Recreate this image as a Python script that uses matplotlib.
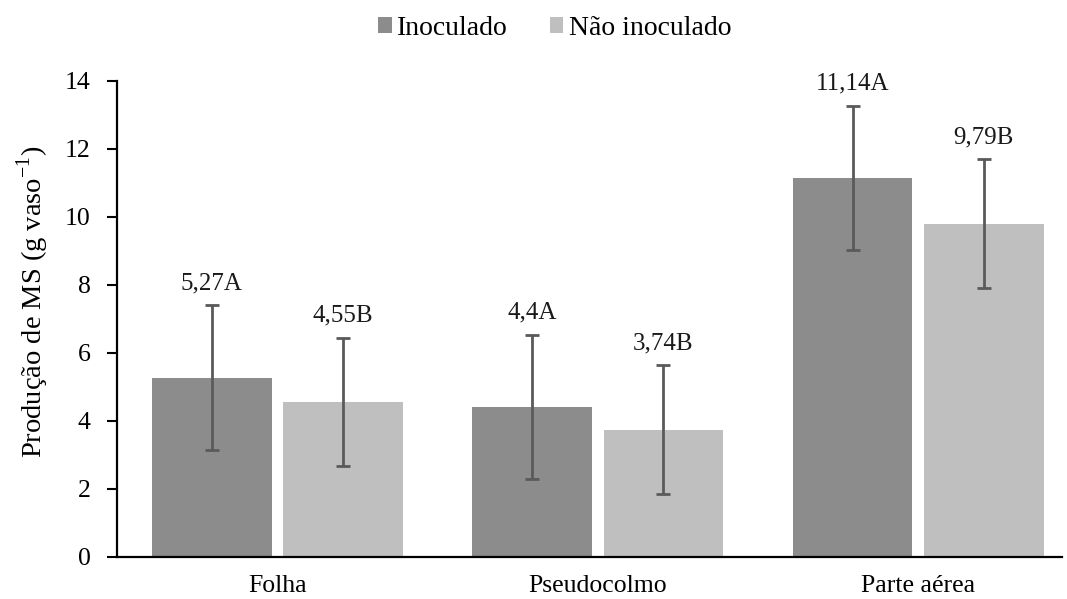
import numpy as np
import matplotlib.pyplot as plt

plt.rcParams['font.family'] = ['Liberation Serif', 'DejaVu Serif']
plt.rcParams['mathtext.fontset'] = 'custom'
plt.rcParams['mathtext.rm'] = 'Liberation Serif'

categories = ["Folha", "Pseudocolmo", "Parte aérea"]
inoculado = [5.27, 4.40, 11.14]
nao_inoculado = [4.55, 3.74, 9.79]
err_inoculado = [2.12, 2.12, 2.12]
err_nao_inoculado = [1.89, 1.89, 1.89]
labels_inoculado = ["5,27A", "4,4A", "11,14A"]
labels_nao_inoculado = ["4,55B", "3,74B", "9,79B"]


def main():
    fig = plt.figure(figsize=(10.67, 5.99), dpi=100)
    ax = fig.add_axes([0.1097, 0.0705, 0.886, 0.795])

    x = np.arange(len(categories))
    width = 0.374
    off = 0.205
    ekw = dict(ecolor="#5a5a5a", elinewidth=2, capsize=5, capthick=2)

    b1 = ax.bar(x - off, inoculado, width, color="#8c8c8c", label="Inoculado",
                yerr=err_inoculado, error_kw=ekw)
    b2 = ax.bar(x + off, nao_inoculado, width, color="#bfbfbf", label="Não inoculado",
                yerr=err_nao_inoculado, error_kw=ekw)

    for xs, vals, errs, labs in [(x - off, inoculado, err_inoculado, labels_inoculado),
                                 (x + off, nao_inoculado, err_nao_inoculado, labels_nao_inoculado)]:
        for xi, v, e, t in zip(xs, vals, errs, labs):
            ax.annotate(t, (xi, v + e), xytext=(0, 8), textcoords="offset points",
                        ha="center", va="bottom", fontsize=18, color="#1a1a1a")

    ax.set_xlim(-0.5, 2.45)
    ax.set_ylim(0, 14)
    ax.set_yticks(range(0, 15, 2))
    ax.set_xticks(x)
    ax.set_xticklabels(categories, fontsize=18.5)
    ax.tick_params(axis="x", length=0, pad=13)
    ax.tick_params(axis="y", direction="out", length=7, width=1.5, labelsize=18.5, pad=12)
    ax.set_ylabel(r"Produção de MS (g vaso$^{\mathregular{-1}}$)", fontsize=20.5, labelpad=10)
    ax.yaxis.label.set_y(0.535)

    for s in ["top", "right"]:
        ax.spines[s].set_visible(False)
    for s in ["left", "bottom"]:
        ax.spines[s].set_linewidth(1.6)
        ax.spines[s].set_color("black")

    fig.legend(handles=[b1, b2], loc="center", bbox_to_anchor=(0.52, 0.953), ncol=2,
               frameon=False, fontsize=20, handlelength=0.48, handleheight=0.48,
               handletextpad=0.2, columnspacing=1.5)

    fig.savefig("out.png", dpi=100)


if __name__ == "__main__":
    main()
